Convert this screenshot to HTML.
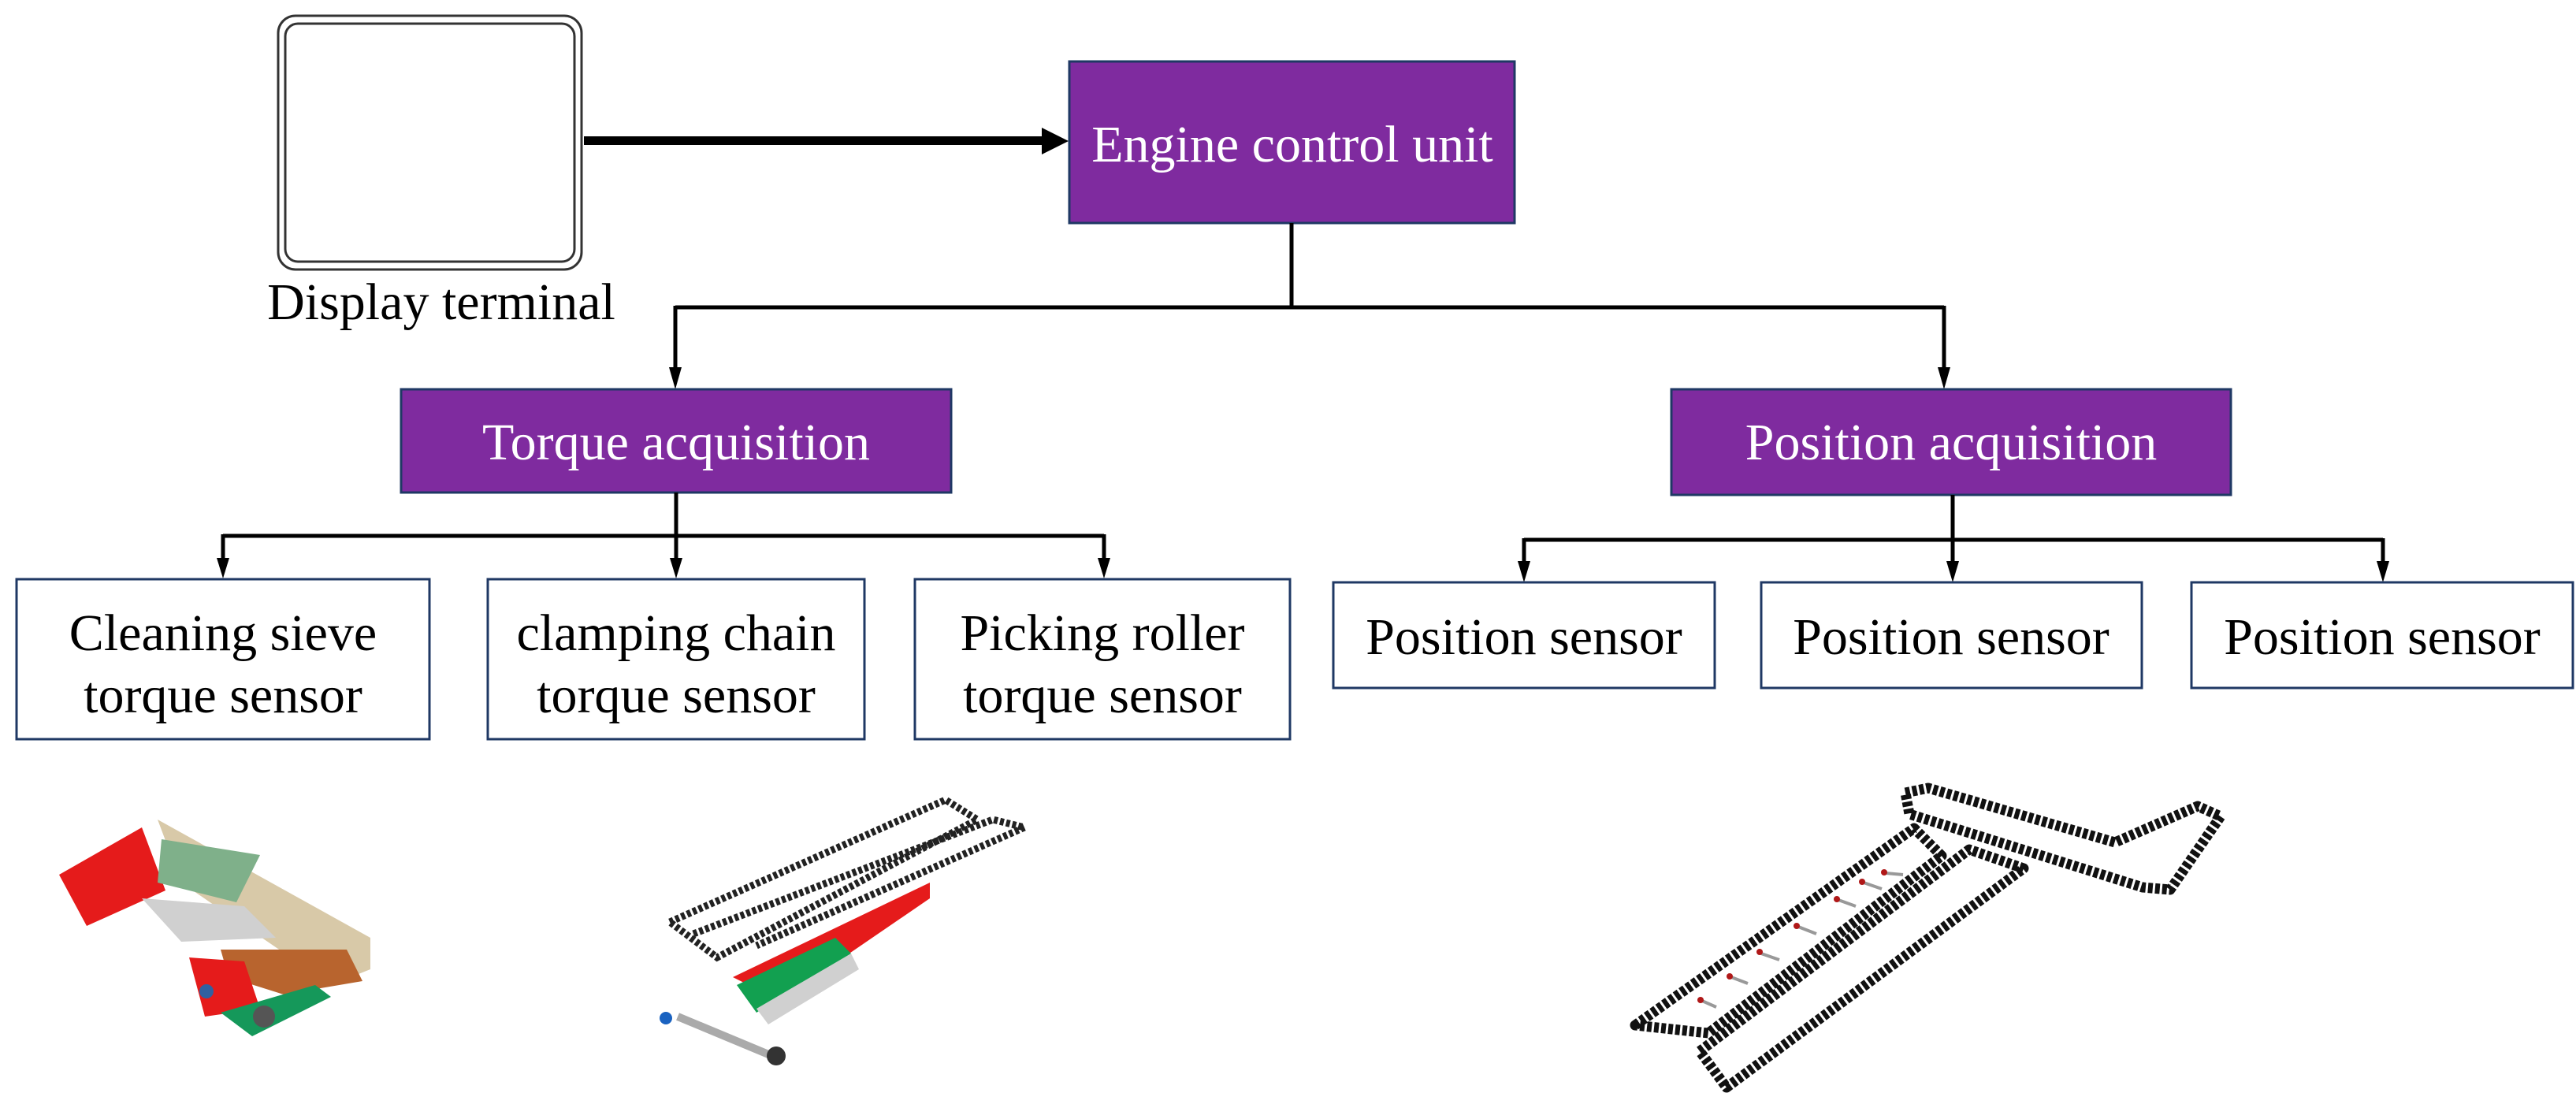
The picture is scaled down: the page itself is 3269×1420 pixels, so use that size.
<!DOCTYPE html>
<html><head><meta charset="utf-8"><style>
html,body{margin:0;padding:0;background:#fff;}
svg{display:block;}
text{font-family:"Liberation Serif",serif;font-size:66px;}
</style></head><body>
<svg width="3269" height="1420" viewBox="0 0 3269 1420" xmlns="http://www.w3.org/2000/svg">
<defs>
<marker id="ah" markerWidth="10" markerHeight="10" refX="9" refY="5" orient="auto" markerUnits="userSpaceOnUse" viewBox="0 0 10 10">
</marker>
</defs>
<!-- Display terminal -->
<rect x="353" y="20" width="385" height="322" rx="22" fill="#fff" stroke="#333" stroke-width="3"/>
<rect x="362" y="30" width="367" height="302" rx="16" fill="none" stroke="#333" stroke-width="3"/>
<text x="560" y="405" text-anchor="middle" fill="#000" font-size="64">Display terminal</text>
<!-- arrow to ECU -->
<rect x="741" y="173" width="585" height="11" fill="#000"/>
<polygon points="1322,162 1356,179 1322,196" fill="#000"/>
<!-- ECU -->
<rect x="1357" y="78" width="565" height="205" fill="#7f2b9f" stroke="#1f3864" stroke-width="3"/>
<text x="1640" y="205" text-anchor="middle" fill="#fff">Engine control unit</text>
<!-- ECU to acquisition -->
<g stroke="#000" stroke-width="5" fill="none">
<line x1="1639" y1="283" x2="1639" y2="390"/>
<line x1="857" y1="390" x2="2467" y2="390"/>
<line x1="857" y1="388" x2="857" y2="470"/>
<line x1="2467" y1="388" x2="2467" y2="470"/>
</g>
<polygon points="849,466 865,466 857,494" fill="#000"/>
<polygon points="2459,466 2475,466 2467,494" fill="#000"/>
<!-- acquisition boxes -->
<rect x="509" y="494" width="698" height="131" fill="#7f2b9f" stroke="#1f3864" stroke-width="3"/>
<text x="858" y="583" text-anchor="middle" fill="#fff">Torque acquisition</text>
<rect x="2121" y="494" width="710" height="134" fill="#7f2b9f" stroke="#1f3864" stroke-width="3"/>
<text x="2476" y="583" text-anchor="middle" fill="#fff">Position acquisition</text>
<!-- torque connectors -->
<g stroke="#000" stroke-width="5" fill="none">
<line x1="858" y1="625" x2="858" y2="712"/>
<line x1="283" y1="680" x2="1401" y2="680"/>
<line x1="283" y1="678" x2="283" y2="712"/>
<line x1="1401" y1="678" x2="1401" y2="712"/>
<line x1="2478" y1="628" x2="2478" y2="716"/>
<line x1="1934" y1="685" x2="3024" y2="685"/>
<line x1="1934" y1="683" x2="1934" y2="716"/>
<line x1="3024" y1="683" x2="3024" y2="716"/>
</g>
<polygon points="275,708 291,708 283,734" fill="#000"/>
<polygon points="850,708 866,708 858,734" fill="#000"/>
<polygon points="1393,708 1409,708 1401,734" fill="#000"/>
<polygon points="1926,712 1942,712 1934,739" fill="#000"/>
<polygon points="2470,712 2486,712 2478,739" fill="#000"/>
<polygon points="3016,712 3032,712 3024,739" fill="#000"/>
<!-- torque sensor boxes -->
<g fill="#fff" stroke="#1f3864" stroke-width="3">
<rect x="21" y="735" width="524" height="203"/>
<rect x="619" y="735" width="478" height="203"/>
<rect x="1161" y="735" width="476" height="203"/>
<rect x="1692" y="739" width="484" height="134"/>
<rect x="2235" y="739" width="483" height="134"/>
<rect x="2781" y="739" width="484" height="134"/>
</g>
<g fill="#000" text-anchor="middle">
<text x="283" y="825">Cleaning sieve</text>
<text x="283" y="904">torque sensor</text>
<text x="858" y="825">clamping chain</text>
<text x="858" y="904">torque sensor</text>
<text x="1399" y="825">Picking roller</text>
<text x="1399" y="904">torque sensor</text>
<text x="1934" y="830">Position sensor</text>
<text x="2476" y="830">Position sensor</text>
<text x="3023" y="830">Position sensor</text>
</g>
<!-- image 1: cleaning sieve -->
<g>
<polygon points="200,1040 470,1190 470,1230 420,1250 230,1120" fill="#d8c9a8"/>
<polygon points="75,1110 180,1050 210,1130 110,1175" fill="#e51b1b"/>
<polygon points="205,1065 330,1085 300,1145 200,1120" fill="#7fb08a"/>
<polygon points="180,1140 310,1150 350,1190 230,1195" fill="#d0d0d0"/>
<polygon points="280,1205 440,1205 460,1245 360,1262 290,1240" fill="#b8642e"/>
<polygon points="240,1215 310,1220 330,1280 260,1290" fill="#e51b1b"/>
<polygon points="280,1285 400,1250 420,1265 320,1315" fill="#15985a"/>
<circle cx="335" cy="1290" r="14" fill="#555"/>
<circle cx="262" cy="1258" r="9" fill="#3060a0"/>
</g>
<!-- image 2: clamping chain -->
<g fill="none">
<path d="M850,1170 L1200,1015 L1240,1040 L910,1215 Z" stroke="#222" stroke-width="9" stroke-dasharray="5 3"/>
<path d="M880,1185 L1260,1040 L1300,1050 L960,1200" stroke="#222" stroke-width="9" stroke-dasharray="5 3"/>
<polygon points="930,1240 1180,1120 1180,1140 990,1270" fill="#e51b1b"/>
<polygon points="935,1250 1060,1190 1080,1210 960,1285" fill="#12a050"/>
<polygon points="960,1280 1080,1210 1090,1230 975,1300" fill="#d0d0d0"/>
<line x1="860" y1="1290" x2="980" y2="1340" stroke="#aaa" stroke-width="10"/>
<circle cx="985" cy="1340" r="12" fill="#333"/>
<circle cx="845" cy="1292" r="8" fill="#1a62c0"/>
</g>
<!-- image 3: position chains -->
<g fill="none" stroke="#111" stroke-width="13" stroke-dasharray="6 3" stroke-linejoin="round">
<polygon points="2075,1301 2429,1051 2464,1086 2168,1311"/>
<polygon points="2157,1334 2499,1078 2568,1102 2191,1380"/>
<polygon points="2418,1006 2447,1000 2684,1069 2789,1023 2818,1036 2754,1129 2719,1126 2423,1033"/>
</g>
<g stroke="#999" stroke-width="4">
<line x1="2178" y1="1278" x2="2160" y2="1270"/>
<line x1="2218" y1="1248" x2="2197" y2="1240"/>
<line x1="2258" y1="1218" x2="2235" y2="1210"/>
<line x1="2305" y1="1185" x2="2282" y2="1176"/>
<line x1="2355" y1="1150" x2="2333" y2="1142"/>
<line x1="2388" y1="1128" x2="2365" y2="1120"/>
<line x1="2415" y1="1110" x2="2393" y2="1108"/>
</g>
<g fill="#b01818">
<circle cx="2158" cy="1269" r="4"/><circle cx="2195" cy="1239" r="4"/><circle cx="2233" cy="1208" r="4"/>
<circle cx="2280" cy="1175" r="4"/><circle cx="2331" cy="1141" r="4"/><circle cx="2363" cy="1119" r="4"/><circle cx="2391" cy="1107" r="4"/>
</g>
</svg>
</body></html>
